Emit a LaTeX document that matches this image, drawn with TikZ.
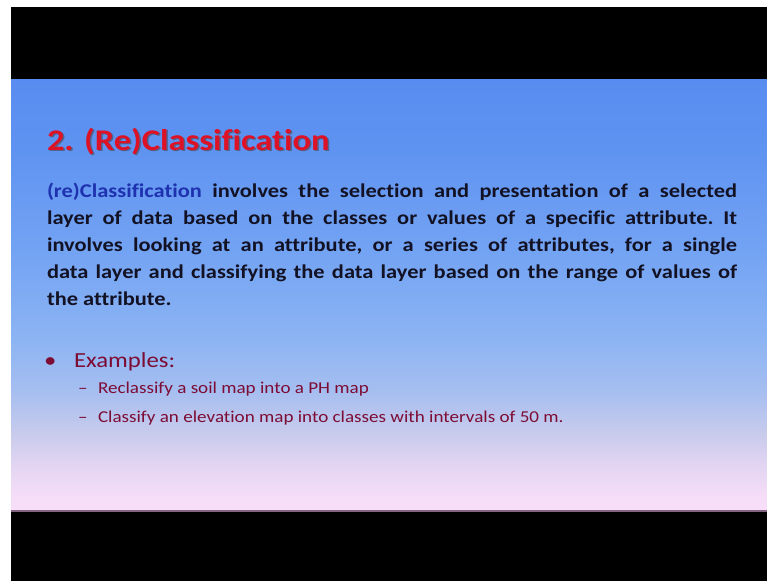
\documentclass[tikz,border=0pt]{standalone}
\usepackage{fontspec}
\setmainfont{Carlito}[FakeStretch=1.15, Ligatures=NoCommon]
\definecolor{titlered}{RGB}{222,18,38}
\definecolor{bodyblue}{RGB}{30,50,175}
\definecolor{bodyink}{RGB}{18,18,36}
\definecolor{maroon}{RGB}{125,12,52}
\definecolor{bgA}{RGB}{248,222,248}
\definecolor{bgB}{RGB}{244,220,247}
\definecolor{bgC}{RGB}{228,214,242}
\definecolor{bgD}{RGB}{200,203,236}
\definecolor{bgE}{RGB}{165,190,240}
\definecolor{bgF}{RGB}{140,180,243}
\definecolor{bgG}{RGB}{115,163,243}
\definecolor{bgH}{RGB}{95,147,241}
\definecolor{bgI}{RGB}{88,140,240}
\pgfdeclareverticalshading{slidebg}{100bp}{
 color(0bp)=(bgA); color(25bp)=(bgA); color(27bp)=(bgB); color(30bp)=(bgC);
 color(34bp)=(bgD); color(39bp)=(bgE); color(45bp)=(bgF); color(55bp)=(bgG);
 color(67bp)=(bgH); color(75bp)=(bgI); color(100bp)=(bgI)}
\tikzset{
 txt/.style={inner sep=0pt, outer sep=0pt, anchor=base west},
 titlefont/.style={font=\fontsize{30}{36}\selectfont\bfseries},
 itemfont/.style={font=\fontsize{16.6}{20}\selectfont},
}
\begin{document}
\begin{tikzpicture}[x=1pt,y=-1pt]
\useasboundingbox (0,0) rectangle (767,581);
\fill[white] (0,0) rectangle (767,581);
\fill[black] (11,7) rectangle (767,581);
\shade[shading=slidebg] (11,79) rectangle (767,511);
\draw[color={rgb,255:red,130;green,100;blue,130}, line width=1.2pt] (11,511) -- (767,511);
% title with shadow
\node[txt, titlefont, text=black!75, opacity=0.55] (titleshadow) at (48.5,151.5) {2. (Re)Classification};
\node[txt, titlefont, text=titlered] (title) at (47,150) {2. (Re)Classification};
% body paragraph
\node[inner sep=0pt, outer sep=0pt, anchor=base west, text width=690pt, align=justify, text=bodyink,
      font=\fontsize{19.5}{27}\selectfont\bfseries\frenchspacing] (body) at (47,197.5)
 {{\color{bodyblue}(re)Classification} involves the selection and presentation of a selected\linebreak
 layer of data based on the classes or values of a specific attribute. It\linebreak
 involves looking at an attribute, or a series of attributes, for a single\linebreak
 data layer and classifying the data layer based on the range of values of\linebreak
 the attribute.\par};
% examples
\node[txt, text=maroon, font=\fontsize{21.5}{26}\selectfont] (bullet) at (44,367) {•};
\node[txt, text=maroon, font=\fontsize{21.5}{26}\selectfont] (examples) at (74,367) {Examples:};
\node[txt, itemfont, text=maroon] (dash1) at (78,393) {–};
\node[txt, itemfont, text=maroon] (item1) at (98,393) {Reclassify a soil map into a PH map};
\node[txt, itemfont, text=maroon] (dash2) at (78,422) {–};
\node[txt, itemfont, text=maroon] (item2) at (98,422) {Classify an elevation map into classes with intervals of 50 m.};
\end{tikzpicture}
\end{document}
